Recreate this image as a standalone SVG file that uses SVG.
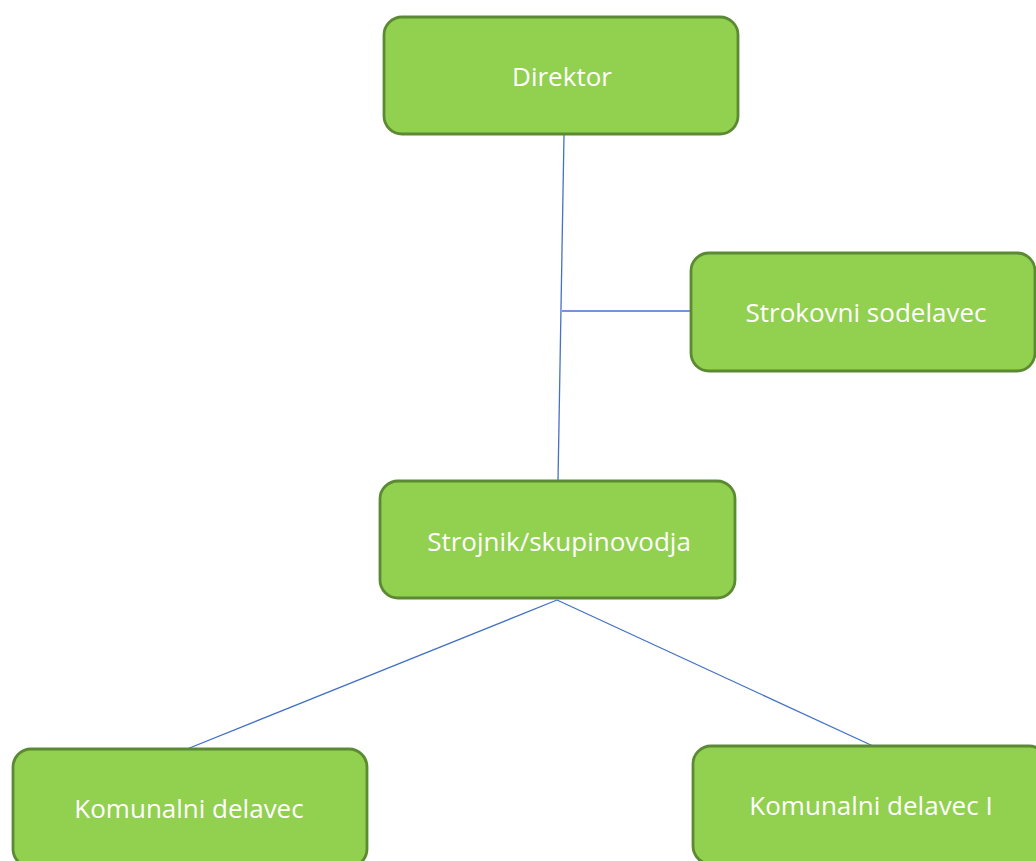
<svg xmlns="http://www.w3.org/2000/svg" width="1036" height="861" viewBox="0 0 1036 861">
<style>
.box{fill:#92d050;stroke:#5b8a33;stroke-width:2.8}
.lbl{font-family:"Open Sans","Liberation Sans",sans-serif;font-size:26px;fill:#ffffff;text-anchor:middle;dominant-baseline:central}
.con{stroke:#4472c4;stroke-width:1.3;fill:none}
</style>
<rect width="1036" height="861" fill="#ffffff"/>
<g id="connectors">
<line class="con" x1="564" y1="135" x2="558" y2="481"/>
<line class="con" x1="562" y1="311" x2="691" y2="311"/>
<line class="con" x1="557" y1="600" x2="187" y2="749"/>
<line class="con" x1="557" y1="600" x2="873" y2="746"/>
</g>
<g id="n-direktor">
<rect class="box" x="384" y="17" width="354" height="117" rx="18"/>
<text class="lbl" x="562" y="76">Direktor</text>
</g>
<g id="n-strokovni">
<rect class="box" x="691" y="253" width="344" height="118" rx="18"/>
<text class="lbl" x="866" y="312">Strokovni sodelavec</text>
</g>
<g id="n-strojnik">
<rect class="box" x="380" y="481" width="355" height="117" rx="18"/>
<text class="lbl" x="559" y="541">Strojnik/skupinovodja</text>
</g>
<g id="n-komunalni1">
<rect class="box" x="13" y="749" width="354" height="118" rx="18"/>
<text class="lbl" x="189" y="808">Komunalni delavec</text>
</g>
<g id="n-komunalni2">
<rect class="box" x="693" y="746" width="354" height="118" rx="18"/>
<text class="lbl" x="871" y="805">Komunalni delavec I</text>
</g>
</svg>
